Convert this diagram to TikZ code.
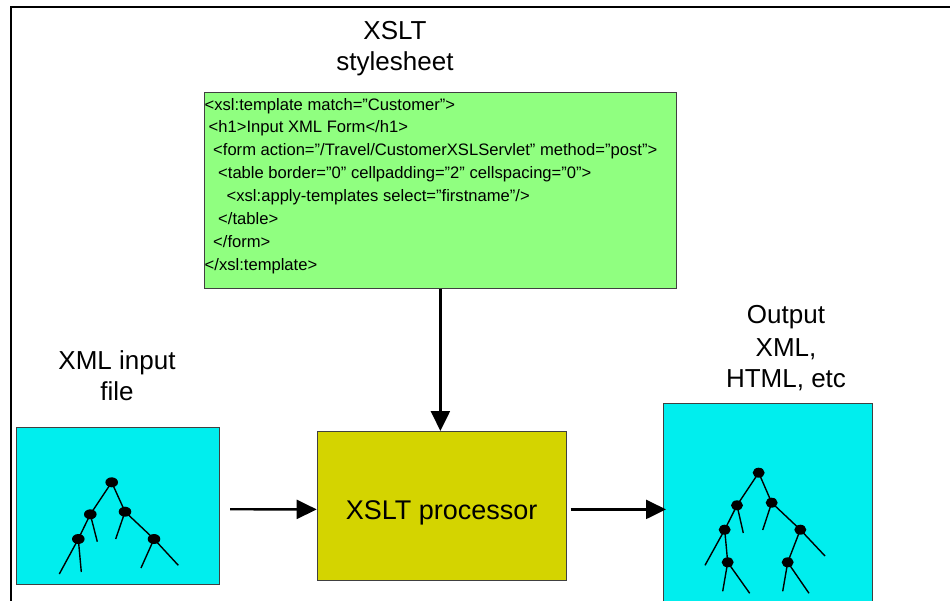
\documentclass[tikz,border=0pt]{standalone}
\usepackage{fontspec}
\setmainfont{Liberation Sans}
\usetikzlibrary{arrows.meta}
\definecolor{codegreen}{RGB}{144,255,128}
\definecolor{treecyan}{RGB}{0,238,238}
\definecolor{procolive}{RGB}{212,212,0}
\begin{document}
\begin{tikzpicture}[x=1pt,y=-1pt,
  box/.style={draw=black!75, line width=0.8pt, inner sep=0pt, anchor=north west},
  lbl/.style={font=\fontsize{26}{31}\selectfont, anchor=base, inner sep=0pt},
  code/.style={font=\fontsize{16.6}{18}\selectfont, anchor=base west, inner sep=0pt},
  arr/.style={line width=2.4pt, -{Triangle[length=20pt,width=19pt]}},
  twig/.style={line width=1.4pt},
  frame/.style={line width=2.2pt}]
\useasboundingbox (0,0) rectangle (950,600);
\clip (0,0) rectangle (950,600);
\fill[white] (0,0) rectangle (950,600);

% frame
\draw[frame] (11,601) -- (11,7) -- (951,7);

% labels
\node[lbl] (t1) at (395,39) {XSLT};
\node[lbl] (t2) at (395,70.5) {stylesheet};
\node[lbl] (i1) at (117,369.3) {XML input};
\node[lbl] (i2) at (117,400) {file};
\node[lbl] (o1) at (786,323.3) {Output};
\node[lbl] (o2) at (786,356.7) {XML,};
\node[lbl] (o3) at (786,387.7) {HTML, etc};

% stylesheet box
\node[box, fill=codegreen, minimum width=472pt, minimum height=196pt] (sheet) at (204,92) {};
\node[code] (c1) at (204.5,110) {<xsl:template match="Customer">};
\node[code] (c2) at (208.5,132.9) {<h1>Input XML Form</h1>};
\node[code] (c3) at (213,155.8) {<form action="/Travel/CustomerXSLServlet" method="post">};
\node[code] (c4) at (218,178.7) {<table border="0" cellpadding="2" cellspacing="0">};
\node[code] (c5) at (226.5,201.6) {<xsl:apply-templates select="firstname"/>};
\node[code] (c6) at (218,224.5) {</table>};
\node[code] (c7) at (213,247.4) {</form>};
\node[code] (c8) at (204.5,270.3) {</xsl:template>};

% processor
\node[box, fill=procolive, minimum width=249pt, minimum height=149pt,
      font=\fontsize{27}{31}\selectfont, text height=27pt, text depth=0pt] (proc) at (316.7,431) {XSLT processor};

% input and output boxes
\node[box, fill=treecyan, minimum width=203.3pt, minimum height=157.3pt] (inbox) at (16,426.7) {};
\node[box, fill=treecyan, minimum width=208.7pt, minimum height=210pt] (outbox) at (663,403.3) {};

% arrows
\draw[arr] (sheet.south) -- (sheet.south |- proc.north);
\draw[arr] ([shift={(10,3.5)}]inbox.east) -- ([shift={(0,3.5)}]proc.west);
\coordinate (a) at ([shift={(4,3.5)}]proc.east);
\coordinate (b) at (outbox.west |- a);
\draw[arr] (a) -- ([xshift=3pt]b);

% left tree
\draw[twig] (59.3,574) -- (78.3,539) -- (90.3,514.3) -- (111.7,482.3) -- (125,511.7) -- (154,539) -- (178.3,565.3);
\draw[twig] (78.3,539) -- (81.3,572);
\draw[twig] (90.3,514.3) -- (97.3,541.7);
\draw[twig] (125,511.7) -- (115.7,539);
\draw[twig] (154,539) -- (141,568);
\foreach \p in {(111.7,482.3),(90.3,514.3),(125,511.7),(78.3,539),(154,539)}
  \fill \p ellipse [x radius=6.3pt, y radius=5pt];

% right tree
\draw[twig] (705,565.3) -- (724.7,529.7) -- (737,505.3) -- (758.7,472.7) -- (771.7,502.7) -- (800.3,529.7) -- (825,556);
\draw[twig] (724.7,529.7) -- (727.7,562.3) -- (722.7,591.3);
\draw[twig] (727.7,562.3) -- (749.7,593.3);
\draw[twig] (737,505.3) -- (743.3,533);
\draw[twig] (771.7,502.7) -- (762.7,530);
\draw[twig] (800.3,529.7) -- (787.7,562.3) -- (782.7,591.3);
\draw[twig] (787.7,562.3) -- (809,593.3);
\foreach \p in {(758.7,472.7),(737,505.3),(771.7,502.7),(724.7,529.7),(800.3,529.7),(727.7,562.3),(787.7,562.3)}
  \fill \p ellipse [x radius=6pt, y radius=5pt];
\end{tikzpicture}
\end{document}
